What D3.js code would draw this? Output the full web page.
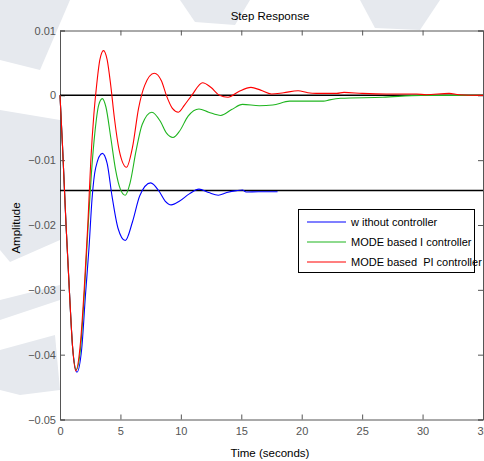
<!DOCTYPE html>
<html>
<head>
<meta charset="utf-8">
<script src="https://cdn.jsdelivr.net/npm/d3@7"></script>
<style>
  body { margin: 0; background: #fff; }
  svg text { font-family: "Liberation Sans", Arial, sans-serif; }
</style>
</head>
<body>
<div id="chart"></div>
<script>
// step response data (time in s, amplitude)
const timeNoCtrl = [0, 0.2, 0.5, 0.8, 1.05, 1.4, 1.8, 2.1, 2.4, 2.65, 2.95, 3.5, 3.9, 4.3, 4.8, 5.4, 6.0, 6.6, 7.5, 8.2, 8.7, 9.2, 9.9, 10.7, 11.5, 12.3, 13.1, 13.8, 14.6, 15.1, 15.4, 16.4, 18.0];
const ampNoCtrl = [0, -0.0075, -0.0200, -0.0310, -0.0390, -0.0427, -0.0390, -0.0310, -0.0235, -0.0160, -0.0112, -0.00895, -0.0105, -0.0155, -0.0205, -0.0224, -0.0195, -0.0155, -0.0135, -0.0148, -0.0163, -0.0169, -0.0163, -0.0152, -0.01446, -0.0150, -0.0154, -0.0150, -0.0147, -0.0146, -0.0149, -0.01487, -0.01487];

const timeI = [0, 0.2, 0.5, 0.8, 1.05, 1.35, 1.7, 2.0, 2.3, 2.6, 2.9, 3.2, 3.5, 3.8, 4.2, 4.6, 5.0, 5.4, 5.8, 6.3, 6.8, 7.6, 8.3, 8.8, 9.35, 9.9, 10.6, 11.5, 12.3, 13.3, 14.2, 15.1, 16.5, 17.6, 19.0, 21.8, 22.3, 23.2, 26.7, 29.9, 35];
const ampI = [0, -0.0075, -0.0200, -0.0310, -0.0390, -0.0423, -0.0390, -0.0310, -0.0210, -0.0120, -0.0055, -0.0015, -0.0005, -0.0018, -0.0065, -0.0115, -0.0145, -0.0154, -0.0135, -0.0085, -0.0045, -0.0026, -0.0040, -0.0058, -0.0065, -0.0055, -0.0032, -0.0021, -0.0026, -0.0031, -0.0022, -0.0014, -0.0016, -0.0015, -0.0009, -0.0009, -0.0007, -0.00046, -0.0003, 0, 0];

const timePI = [0, 0.2, 0.5, 0.8, 1.05, 1.3, 1.7, 2.0, 2.3, 2.55, 2.8, 3.0, 3.3, 3.6, 3.9, 4.2, 4.5, 4.9, 5.5, 6.0, 6.5, 7.0, 7.8, 8.4, 8.8, 9.3, 9.8, 10.3, 10.9, 11.8, 12.5, 13.2, 13.9, 14.8, 15.8, 16.6, 17.5, 18.5, 19.7, 20.5, 21.2, 22.9, 23.5, 25, 27, 29.5, 30.3, 32.2, 33, 35];
const ampPI = [0, -0.0075, -0.0200, -0.0310, -0.0390, -0.0425, -0.0380, -0.0300, -0.0200, -0.0100, -0.0030, 0.0010, 0.0055, 0.0069, 0.0055, 0.0015, -0.0035, -0.0085, -0.0111, -0.0080, -0.0020, 0.0015, 0.0034, 0.0022, 0.0000, -0.0020, -0.0026, -0.0015, 0.0000, 0.00195, 0.0012, 0.0000, -0.0003, 0.0006, 0.00123, 0.0008, 0.0002, 0.0004, 0.0007, 0.0004, 0.0003, 0.0003, 0.00045, 0.0003, 0.0002, 0.0002, 0.0001, 0.0003, 0.0001, 0];

const refLevels = [0, -0.01466];
const xTicks = [0, 5, 10, 15, 20, 25, 30, 35];
const yTicks = [0.01, 0, -0.01, -0.02, -0.03, -0.04, -0.05];
const seriesNames = ['w ithout controller', 'MODE based I controller', 'MODE based  PI controller'];
const seriesColors = ['#0000ff', '#1fb51f', '#ff0000'];

const width = 484, height = 461;
const plotLeft = 60, plotRight = 483, plotTop = 30.5, plotBottom = 419.5;

const svg = d3.select('#chart').append('svg')
    .attr('width', width)
    .attr('height', height);

// faint watermark shapes behind the figure
const wm = [
    [[0, 0], [70, 0], [40, 70], [0, 60]],
    [[0, 110], [60, 120], [60, 240], [10, 262], [0, 250]],
    [[180, 0], [250, 0], [235, 25], [195, 22]],
    [[360, 0], [440, 0], [420, 30], [375, 28]],
    [[0, 300], [60, 285], [60, 300], [0, 320]],
    [[0, 350], [55, 335], [60, 390], [20, 395], [0, 390]]
];
svg.selectAll('polygon.wm').data(wm).enter().append('polygon')
    .attr('class', 'wm')
    .attr('points', d => d.map(p => p.join(',')).join(' '))
    .attr('fill', '#e6e9ee');

const x = d3.scaleLinear().domain([0, 35]).range([plotLeft, plotRight]);
const y = d3.scaleLinear().domain([-0.05, 0.01]).range([plotBottom, plotTop]);

svg.append('rect')
    .attr('x', plotLeft).attr('y', plotTop)
    .attr('width', plotRight - plotLeft).attr('height', plotBottom - plotTop)
    .attr('fill', '#fff');

const axisColor = '#555';

// ticks inside the box
const bottomAxis = svg.append('g').attr('transform', `translate(0,${plotBottom})`)
    .call(d3.axisBottom(x).tickValues(xTicks).tickSize(-5).tickPadding(8).tickFormat(d3.format('d')));
const topAxis = svg.append('g').attr('transform', `translate(0,${plotTop})`)
    .call(d3.axisTop(x).tickValues(xTicks).tickSize(-5).tickFormat(''));
const leftAxis = svg.append('g').attr('transform', `translate(${plotLeft},0)`)
    .call(d3.axisLeft(y).tickValues(yTicks).tickSize(-5).tickPadding(4).tickFormat(d => d === 0 ? '0' : d3.format('.2f')(d)));
const rightAxis = svg.append('g').attr('transform', `translate(${plotRight},0)`)
    .call(d3.axisRight(y).tickValues(yTicks).tickSize(-5).tickFormat(''));

[bottomAxis, topAxis, leftAxis, rightAxis].forEach(g => {
    g.select('.domain').attr('stroke', axisColor);
    g.selectAll('.tick line').attr('stroke', axisColor);
    g.selectAll('.tick text').attr('fill', '#555').style('font-size', '11px');
});

// reference lines
svg.selectAll('line.ref').data(refLevels).enter().append('line')
    .attr('class', 'ref')
    .attr('x1', plotLeft).attr('x2', plotRight)
    .attr('y1', d => y(d)).attr('y2', d => y(d))
    .attr('stroke', '#000').attr('stroke-width', 1.5);

const series = [
    { t: timeNoCtrl, a: ampNoCtrl },
    { t: timeI, a: ampI },
    { t: timePI, a: ampPI }
];

const line = d3.line()
    .x(d => x(d[0]))
    .y(d => y(d[1]))
    .curve(d3.curveMonotoneX);

svg.selectAll('path.resp').data(series).enter().append('path')
    .attr('class', 'resp')
    .attr('d', d => line(d.t.map((t, i) => [t, d.a[i]])))
    .attr('fill', 'none')
    .attr('stroke', (d, i) => seriesColors[i])
    .attr('stroke-width', 1.1);

// legend
const lg = svg.append('g');
lg.append('rect')
    .attr('x', 298.5).attr('y', 209.5)
    .attr('width', 176).attr('height', 63)
    .attr('fill', '#fff').attr('stroke', '#000');
seriesNames.forEach((name, i) => {
    const yy = 222 + i * 20;
    lg.append('line')
        .attr('x1', 307).attr('x2', 346)
        .attr('y1', yy).attr('y2', yy)
        .attr('stroke', seriesColors[i]).attr('stroke-width', 1.2);
    lg.append('text')
        .attr('x', 351).attr('y', yy + 4)
        .attr('font-size', '11px')
        .style('white-space', 'pre')
        .text(name);
});

// titles
svg.append('text')
    .attr('x', 270).attr('y', 20)
    .attr('text-anchor', 'middle')
    .attr('font-size', '11.5px')
    .text('Step Response');
svg.append('text')
    .attr('x', 270).attr('y', 457)
    .attr('text-anchor', 'middle')
    .attr('font-size', '11.5px')
    .text('Time (seconds)');
svg.append('text')
    .attr('transform', 'translate(20,228) rotate(-90)')
    .attr('text-anchor', 'middle')
    .attr('font-size', '11.5px')
    .text('Amplitude');
</script>
</body>
</html>
